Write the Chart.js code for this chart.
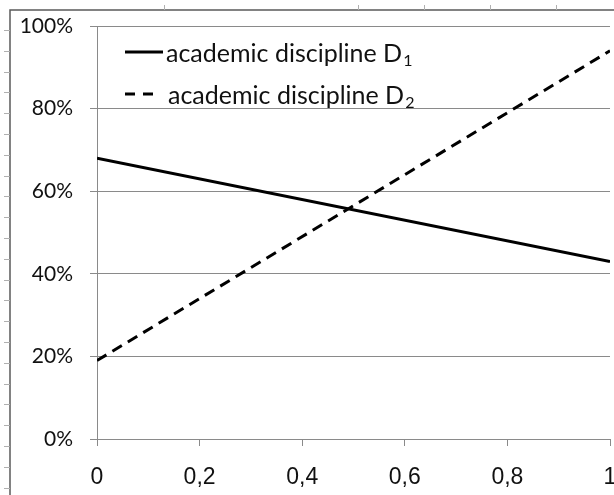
<!DOCTYPE html>
<html>
<head>
<meta charset="utf-8">
<script src="https://cdn.jsdelivr.net/npm/chart.js@4/dist/chart.umd.min.js"></script>
<style>
  html, body { margin: 0; padding: 0; background: #ffffff; }
  #wrap { position: relative; width: 614px; height: 495px; }
</style>
</head>
<body>
<div id="wrap"><canvas id="c" width="614" height="495"></canvas></div>
<script>
// ---- data ----
const xValues = [0, 1];
const seriesNames = ['academic discipline D', 'academic discipline D'];
const seriesSubscripts = ['1', '2'];
const seriesD1 = [68, 43];
const seriesD2 = [19, 94];
const xTickLabels = ['0', '0,2', '0,4', '0,6', '0,8', '1'];
const yTickLabels = ['0%', '20%', '40%', '60%', '80%', '100%'];

const GRID = '#8a8a8a';

const framePlugin = {
  id: 'frame',
  afterDraw(chart) {
    const ctx = chart.ctx;
    ctx.save();
    ctx.strokeStyle = '#5a5a5a';
    ctx.lineWidth = 1.5;
    ctx.beginPath();
    ctx.moveTo(10, 495); ctx.lineTo(10, 10); ctx.lineTo(614, 10);
    ctx.stroke();
    ctx.lineWidth = 1;
    ctx.strokeStyle = '#b0b0b0';
    ctx.beginPath();
    for (let y = 30; y < 495; y += 20.8) { ctx.moveTo(4, Math.round(y) + 0.5); ctx.lineTo(10, Math.round(y) + 0.5); }
    [164, 358, 424, 490, 556].forEach(x => { ctx.moveTo(x + 0.5, 5); ctx.lineTo(x + 0.5, 10); });
    ctx.stroke();
    ctx.restore();
  }
};

const legendPlugin = {
  id: 'insideLegend',
  afterDraw(chart) {
    const ctx = chart.ctx;
    const a = chart.chartArea;
    ctx.save();
    chart.data.datasets.forEach((ds, i) => {
      const cy = a.top + 26 + i * 42;
      ctx.strokeStyle = ds.borderColor;
      ctx.lineWidth = ds.borderWidth;
      ctx.setLineDash(i === 0 ? [] : [10, 8]);
      ctx.beginPath();
      ctx.moveTo(a.left + 28, cy);
      ctx.lineTo(a.left + (i === 0 ? 66 : 56), cy);
      ctx.stroke();
      ctx.setLineDash([]);
      ctx.fillStyle = '#111';
      ctx.textBaseline = 'alphabetic';
      ctx.font = '25px Lato';
      const tx = a.left + (i === 0 ? 69 : 71);
      const by = cy + 10;
      ctx.fillText(seriesNames[i], tx, by);
      const w = ctx.measureText(seriesNames[i]).width;
      ctx.font = '16px Lato';
      ctx.fillText(seriesSubscripts[i], tx + w + 1, by + 4);
    });
    ctx.restore();
  }
};

new Chart(document.getElementById('c'), {
  type: 'line',
  data: {
    datasets: [
      {
        label: seriesNames[0] + seriesSubscripts[0],
        data: xValues.map((x, i) => ({ x: x, y: seriesD1[i] })),
        borderColor: '#000000',
        borderWidth: 3,
        pointRadius: 0,
        fill: false,
        tension: 0
      },
      {
        label: seriesNames[1] + seriesSubscripts[1],
        data: xValues.map((x, i) => ({ x: x, y: seriesD2[i] })),
        borderColor: '#000000',
        borderWidth: 3,
        borderDash: [11, 7],
        pointRadius: 0,
        fill: false,
        tension: 0
      }
    ]
  },
  options: {
    responsive: false,
    animation: false,
    layout: { padding: { top: 26, right: 4, left: 0, bottom: 0 } },
    plugins: { legend: { display: false }, tooltip: { enabled: false } },
    scales: {
      x: {
        type: 'linear',
        min: 0, max: 1,
        ticks: {
          stepSize: 0.2,
          padding: 18,
          color: '#111',
          font: { family: 'Liberation Sans', size: 23 },
          maxRotation: 0,
          callback: (v, i) => xTickLabels[i]
        },
        grid: { display: true, drawOnChartArea: false, drawTicks: true, tickLength: 7, color: GRID, lineWidth: 1 },
        border: { display: true, color: GRID, width: 1 },
        afterFit(s) { s.height = 56; s.paddingLeft = 0; s.paddingRight = 0; }
      },
      y: {
        min: 0, max: 100,
        ticks: {
          stepSize: 20,
          padding: 17,
          color: '#111',
          font: { family: 'Lato', size: 21 },
          callback: (v, i) => yTickLabels[i]
        },
        grid: { color: GRID, lineWidth: 1, tickLength: 7, drawTicks: true },
        border: { display: true, color: GRID, width: 1 },
        afterFit(s) { s.width = 97; s.paddingTop = 0; s.paddingBottom = 0; }
      }
    }
  },
  plugins: [framePlugin, legendPlugin]
});
</script>
</body>
</html>
